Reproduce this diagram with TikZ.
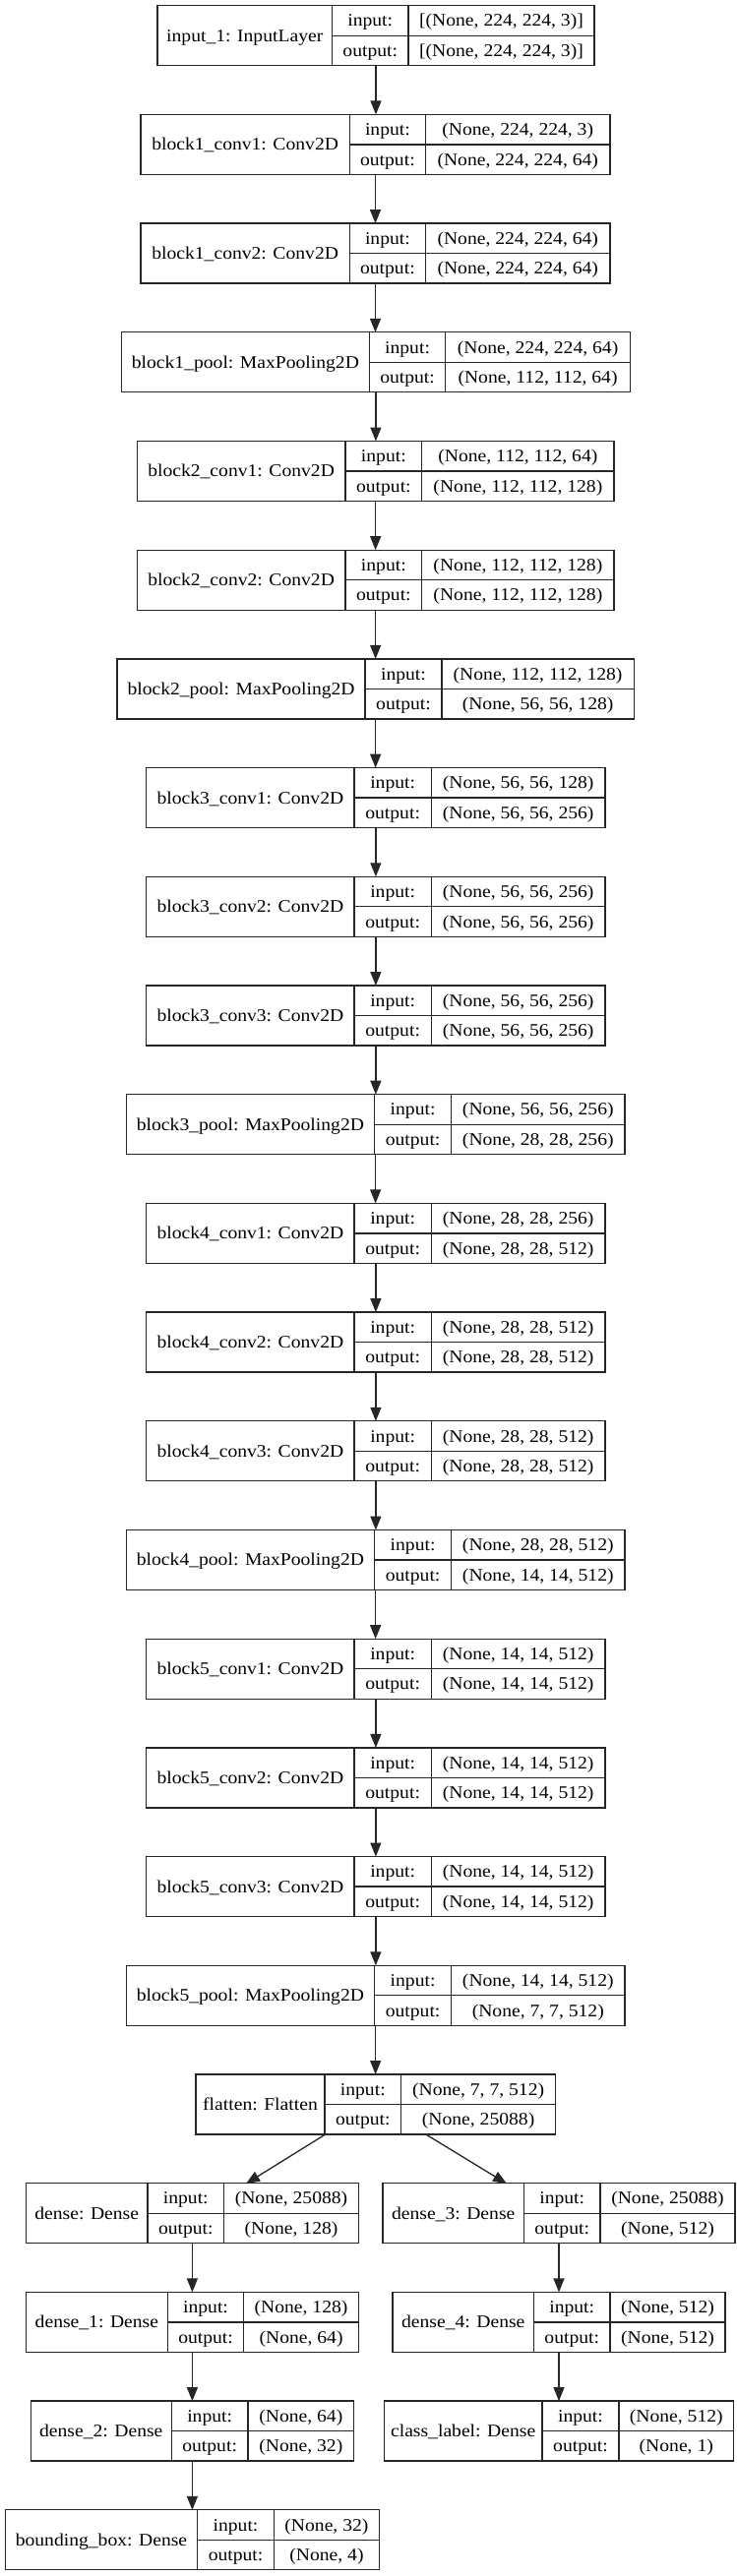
\documentclass[tikz,border=0pt]{standalone}
\usepackage{fontspec}
\setmainfont{Liberation Serif}[FakeStretch=1.09]
\usetikzlibrary{arrows.meta}
\tikzset{
  frame/.style={draw=black!85, line width=1.3pt, inner sep=0pt, outer sep=0pt, minimum height=61pt, anchor=north west},
  cell/.style={draw=black!85, line width=1.3pt},
  txt/.style={inner sep=0pt, text height=11.9pt, text depth=0pt, font=\fontsize{18}{21}\selectfont},
  arr/.style={draw=black!85, fill=black, line width=1.3pt, -{Triangle[length=14pt,width=11pt]}},
}
\newcommand\layer[9]{%
  \pgfmathsetmacro\ltop{5.7+110.7*#6}%
  \pgfmathsetmacro\lbot{\ltop+61}%
  \pgfmathsetmacro\lmid{\ltop+30.5}%
  \pgfmathsetmacro\lwid{#5-#2}%
  \node[frame, minimum width=\lwid pt] (#1) at (#2,\ltop) {};
  \draw[cell] (#3,\ltop) -- (#3,\lbot) (#4,\ltop) -- (#4,\lbot) (#3,\lmid) -- (#5,\lmid);
  \node[txt] (#1-name) at ({(#2+#3)/2},\lmid) {#7};
  \node[txt] (#1-ik) at ({(#3+#4)/2},{\ltop+15.25}) {input:};
  \node[txt] (#1-ok) at ({(#3+#4)/2},{\ltop+45.75}) {output:};
  \node[txt] (#1-iv) at ({(#4+#5)/2},{\ltop+15.25}) {#8};
  \node[txt] (#1-ov) at ({(#4+#5)/2},{\ltop+45.75}) {#9};
}
\begin{document}
\begin{tikzpicture}[x=1pt,y=-1pt]
\fill[white] (0,0) rectangle (749,2619);
\useasboundingbox (0,0) rectangle (749,2619);
\layer{in1}{160}{337.5}{415}{604}{0}{input\_1: InputLayer}{[(None, 224, 224, 3)]}{[(None, 224, 224, 3)]}
\layer{b1c1}{143}{355.3}{432.5}{620}{1}{block1\_conv1: Conv2D}{(None, 224, 224, 3)}{(None, 224, 224, 64)}
\layer{b1c2}{143}{355.3}{432.5}{620}{2}{block1\_conv2: Conv2D}{(None, 224, 224, 64)}{(None, 224, 224, 64)}
\layer{b1p}{123.4}{375.4}{452.7}{640.4}{3}{block1\_pool: MaxPooling2D}{(None, 224, 224, 64)}{(None, 112, 112, 64)}
\layer{b2c1}{139.2}{351}{428.7}{624.1}{4}{block2\_conv1: Conv2D}{(None, 112, 112, 64)}{(None, 112, 112, 128)}
\layer{b2c2}{139.2}{351}{428.7}{624.1}{5}{block2\_conv2: Conv2D}{(None, 112, 112, 128)}{(None, 112, 112, 128)}
\layer{b2p}{119}{371.1}{448.9}{644.3}{6}{block2\_pool: MaxPooling2D}{(None, 112, 112, 128)}{(None, 56, 56, 128)}
\layer{b3c1}{148.8}{360}{438.3}{615}{7}{block3\_conv1: Conv2D}{(None, 56, 56, 128)}{(None, 56, 56, 256)}
\layer{b3c2}{148.8}{360}{438.3}{615}{8}{block3\_conv2: Conv2D}{(None, 56, 56, 256)}{(None, 56, 56, 256)}
\layer{b3c3}{148.8}{360}{438.3}{615}{9}{block3\_conv3: Conv2D}{(None, 56, 56, 256)}{(None, 56, 56, 256)}
\layer{b3p}{128.2}{380.7}{458.5}{635.1}{10}{block3\_pool: MaxPooling2D}{(None, 56, 56, 256)}{(None, 28, 28, 256)}
\layer{b4c1}{148.8}{360}{438.3}{615}{11}{block4\_conv1: Conv2D}{(None, 28, 28, 256)}{(None, 28, 28, 512)}
\layer{b4c2}{148.8}{360}{438.3}{615}{12}{block4\_conv2: Conv2D}{(None, 28, 28, 512)}{(None, 28, 28, 512)}
\layer{b4c3}{148.8}{360}{438.3}{615}{13}{block4\_conv3: Conv2D}{(None, 28, 28, 512)}{(None, 28, 28, 512)}
\layer{b4p}{128.2}{380.7}{458.5}{635.1}{14}{block4\_pool: MaxPooling2D}{(None, 28, 28, 512)}{(None, 14, 14, 512)}
\layer{b5c1}{148.8}{360}{438.3}{615}{15}{block5\_conv1: Conv2D}{(None, 14, 14, 512)}{(None, 14, 14, 512)}
\layer{b5c2}{148.8}{360}{438.3}{615}{16}{block5\_conv2: Conv2D}{(None, 14, 14, 512)}{(None, 14, 14, 512)}
\layer{b5c3}{148.8}{360}{438.3}{615}{17}{block5\_conv3: Conv2D}{(None, 14, 14, 512)}{(None, 14, 14, 512)}
\layer{b5p}{128.2}{380.7}{458.5}{635.1}{18}{block5\_pool: MaxPooling2D}{(None, 14, 14, 512)}{(None, 7, 7, 512)}
\layer{flat}{199}{330}{407.6}{564.6}{19}{flatten: Flatten}{(None, 7, 7, 512)}{(None, 25088)}
\layer{d0}{26.4}{150}{227.6}{364.4}{20}{dense: Dense}{(None, 25088)}{(None, 128)}
\layer{d3}{389}{532.4}{610}{747}{20}{dense\_3: Dense}{(None, 25088)}{(None, 512)}
\layer{d1}{26.4}{170.4}{247.7}{364.4}{21}{dense\_1: Dense}{(None, 128)}{(None, 64)}
\layer{d4}{399}{542.5}{620}{737}{21}{dense\_4: Dense}{(None, 512)}{(None, 512)}
\layer{d2}{31.2}{174.3}{252}{359.6}{22}{dense\_2: Dense}{(None, 64)}{(None, 32)}
\layer{cl}{390.3}{551}{629}{745.6}{22}{class\_label: Dense}{(None, 512)}{(None, 1)}
\layer{bb}{5.3}{200.7}{278.4}{385.5}{23}{bounding\_box: Dense}{(None, 32)}{(None, 4)}
% arrows along the main chain
\foreach \a/\b in {in1/b1c1, b1c1/b1c2, b1c2/b1p, b1p/b2c1, b2c1/b2c2, b2c2/b2p, b2p/b3c1, b3c1/b3c2, b3c2/b3c3, b3c3/b3p, b3p/b4c1, b4c1/b4c2, b4c2/b4c3, b4c3/b4p, b4p/b5c1, b5c1/b5c2, b5c2/b5c3, b5c3/b5p, b5p/flat, d0/d1, d1/d2, d2/bb, d3/d4, d4/cl}
  \draw[arr] (\a.south) -- (\a.south |- \b.north);
% branch arrows from flatten
\coordinate (flatL) at (330,2170.4);
\coordinate (flatR) at (433.5,2170.4);
\coordinate (d0in) at (250,2220.1);
\coordinate (d3in) at (515,2220.1);
\draw[arr] (flatL) -- (d0in);
\draw[arr] (flatR) -- (d3in);
\end{tikzpicture}
\end{document}
